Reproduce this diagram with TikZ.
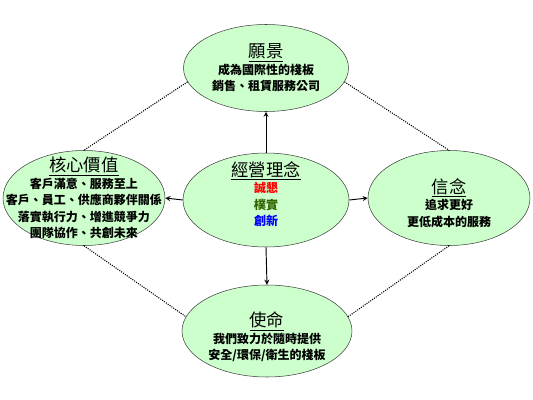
\documentclass[tikz,border=0pt]{standalone}
\usepackage{fontspec}
\newfontfamily\cjk{Noto Sans CJK TC}
\usetikzlibrary{shapes.geometric}
\definecolor{paleleaf}{RGB}{204,255,204}
\definecolor{plaingreen}{RGB}{51,102,0}
\tikzset{
  idea/.style={draw=black!75,ellipse,fill=paleleaf,inner sep=0pt},
  words/.style={align=center,inner sep=0pt,font=\cjk\bfseries\fontsize{9}{12.4}\selectfont},
  link/.style={draw,line width=0.8pt,dash pattern=on 0.8pt off 0.9pt},
  push/.style={draw,line width=0.7pt,-stealth}
}
\newcommand\headline[1]{{\mdseries\fontsize{13}{15}\selectfont\underline{#1}}}

\begin{document}
\begin{tikzpicture}[x=0.75pt,y=-0.75pt]
  \useasboundingbox (0,0) rectangle (533,400);
  \node[idea,minimum width=123.75pt,minimum height=65.25pt] (vision) at (266,68) {};
  \node[idea,minimum width=124.5pt,minimum height=70.5pt] (philo) at (266,200) {};
  \node[idea,minimum width=121.5pt,minimum height=71.25pt] (core) at (84,198) {};
  \node[idea,minimum width=121.5pt,minimum height=71.25pt] (belief) at (449,198) {};
  \node[idea,minimum width=127.5pt,minimum height=69pt] (mission) at (267,331) {};
  % texts
  \node[words] (visionwords) at (266,68) {\headline{願景}\\成為國際性的棧板\\銷售、租賃服務公司};
  \node[words] (philowords) at (266,194) {\headline{經營理念}\\\textcolor{red}{誠懇}\\\textcolor{plaingreen}{樸實}\\\textcolor{blue}{創新}};
  \node[words] (corewords) at (84,198) {\headline{核心價值}\\客戶滿意、服務至上\\客戶、員工、供應商夥伴關係\\落實執行力、增進競爭力\\團隊協作、共創未來};
  \node[words] (beliefwords) at (449,203) {\headline{信念}\\追求更好\\更低成本的服務};
  \node[words] (missionwords) at (267,337) {\headline{使命}\\我們致力於隨時提供\\安全/環保/衛生的棧板};
  % arrows
  \draw[push] (philo.north) -- (vision.south);
  \draw[push] (philo.west) -- (core.east);
  \draw[push] (philo.east) -- (belief.west);
  \draw[push] (philo.south) -- (mission.north);
  % dotted ring
  \draw[link] (vision.190) -- (core.north);
  \draw[link] (vision.350) -- (belief.north);
  \draw[link] (core.south) -- (mission.170);
  \draw[link] (belief.south) -- (mission.10);
\end{tikzpicture}
\end{document}
